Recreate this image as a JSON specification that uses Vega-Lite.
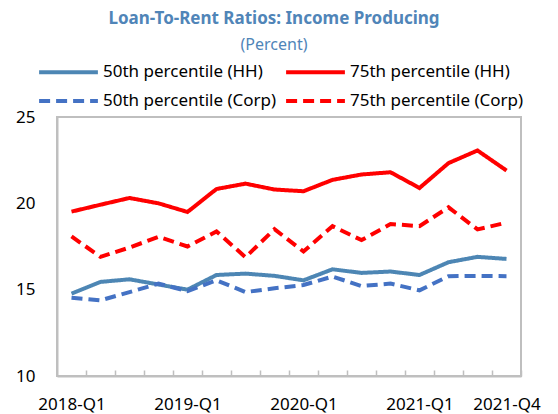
{
  "$schema": "https://vega.github.io/schema/vega-lite/v6.json",
  "width": 464,
  "height": 259,
  "autosize": {"type": "none"},
  "padding": {"left": 57, "top": 117, "right": 37, "bottom": 38},
  "background": "white",
  "title": {
    "text": "Loan-To-Rent Ratios: Income Producing",
    "subtitle": "(Percent)",
    "anchor": "middle",
    "dx": -15,
    "offset": 5.5,
    "font": "Noto Sans",
    "fontSize": 17,
    "fontWeight": "bold",
    "color": "#5085B8",
    "subtitleFont": "Noto Sans",
    "subtitleFontSize": 16,
    "subtitleColor": "#5085B8",
    "subtitlePadding": 9
  },
  "config": {
    "font": "Noto Sans",
    "view": {"stroke": "#BFBFBF", "strokeWidth": 2}
  },
  "data": {
    "values": [
      {"q": "2018-Q1", "s": "50th percentile (HH)", "v": 14.77},
      {"q": "2018-Q2", "s": "50th percentile (HH)", "v": 15.45},
      {"q": "2018-Q3", "s": "50th percentile (HH)", "v": 15.6},
      {"q": "2018-Q4", "s": "50th percentile (HH)", "v": 15.3},
      {"q": "2019-Q1", "s": "50th percentile (HH)", "v": 15.0},
      {"q": "2019-Q2", "s": "50th percentile (HH)", "v": 15.85},
      {"q": "2019-Q3", "s": "50th percentile (HH)", "v": 15.93},
      {"q": "2019-Q4", "s": "50th percentile (HH)", "v": 15.8},
      {"q": "2020-Q1", "s": "50th percentile (HH)", "v": 15.54},
      {"q": "2020-Q2", "s": "50th percentile (HH)", "v": 16.18},
      {"q": "2020-Q3", "s": "50th percentile (HH)", "v": 15.97},
      {"q": "2020-Q4", "s": "50th percentile (HH)", "v": 16.05},
      {"q": "2021-Q1", "s": "50th percentile (HH)", "v": 15.85},
      {"q": "2021-Q2", "s": "50th percentile (HH)", "v": 16.59},
      {"q": "2021-Q3", "s": "50th percentile (HH)", "v": 16.9},
      {"q": "2021-Q4", "s": "50th percentile (HH)", "v": 16.78},
      {"q": "2018-Q1", "s": "75th percentile (HH)", "v": 19.52},
      {"q": "2018-Q2", "s": "75th percentile (HH)", "v": 19.92},
      {"q": "2018-Q3", "s": "75th percentile (HH)", "v": 20.31},
      {"q": "2018-Q4", "s": "75th percentile (HH)", "v": 20.0},
      {"q": "2019-Q1", "s": "75th percentile (HH)", "v": 19.5},
      {"q": "2019-Q2", "s": "75th percentile (HH)", "v": 20.83},
      {"q": "2019-Q3", "s": "75th percentile (HH)", "v": 21.14},
      {"q": "2019-Q4", "s": "75th percentile (HH)", "v": 20.8},
      {"q": "2020-Q1", "s": "75th percentile (HH)", "v": 20.7},
      {"q": "2020-Q2", "s": "75th percentile (HH)", "v": 21.36},
      {"q": "2020-Q3", "s": "75th percentile (HH)", "v": 21.67},
      {"q": "2020-Q4", "s": "75th percentile (HH)", "v": 21.8},
      {"q": "2021-Q1", "s": "75th percentile (HH)", "v": 20.89},
      {"q": "2021-Q2", "s": "75th percentile (HH)", "v": 22.33},
      {"q": "2021-Q3", "s": "75th percentile (HH)", "v": 23.06},
      {"q": "2021-Q4", "s": "75th percentile (HH)", "v": 21.9},
      {"q": "2018-Q1", "s": "50th percentile (Corp)", "v": 14.53},
      {"q": "2018-Q2", "s": "50th percentile (Corp)", "v": 14.38},
      {"q": "2018-Q3", "s": "50th percentile (Corp)", "v": 14.86},
      {"q": "2018-Q4", "s": "50th percentile (Corp)", "v": 15.35},
      {"q": "2019-Q1", "s": "50th percentile (Corp)", "v": 14.92},
      {"q": "2019-Q2", "s": "50th percentile (Corp)", "v": 15.54},
      {"q": "2019-Q3", "s": "50th percentile (Corp)", "v": 14.86},
      {"q": "2019-Q4", "s": "50th percentile (Corp)", "v": 15.08},
      {"q": "2020-Q1", "s": "50th percentile (Corp)", "v": 15.27},
      {"q": "2020-Q2", "s": "50th percentile (Corp)", "v": 15.76},
      {"q": "2020-Q3", "s": "50th percentile (Corp)", "v": 15.21},
      {"q": "2020-Q4", "s": "50th percentile (Corp)", "v": 15.35},
      {"q": "2021-Q1", "s": "50th percentile (Corp)", "v": 14.96},
      {"q": "2021-Q2", "s": "50th percentile (Corp)", "v": 15.78},
      {"q": "2021-Q3", "s": "50th percentile (Corp)", "v": 15.8},
      {"q": "2021-Q4", "s": "50th percentile (Corp)", "v": 15.78},
      {"q": "2018-Q1", "s": "75th percentile (Corp)", "v": 18.08},
      {"q": "2018-Q2", "s": "75th percentile (Corp)", "v": 16.9},
      {"q": "2018-Q3", "s": "75th percentile (Corp)", "v": 17.44},
      {"q": "2018-Q4", "s": "75th percentile (Corp)", "v": 18.06},
      {"q": "2019-Q1", "s": "75th percentile (Corp)", "v": 17.5},
      {"q": "2019-Q2", "s": "75th percentile (Corp)", "v": 18.37},
      {"q": "2019-Q3", "s": "75th percentile (Corp)", "v": 16.88},
      {"q": "2019-Q4", "s": "75th percentile (Corp)", "v": 18.5},
      {"q": "2020-Q1", "s": "75th percentile (Corp)", "v": 17.21},
      {"q": "2020-Q2", "s": "75th percentile (Corp)", "v": 18.68},
      {"q": "2020-Q3", "s": "75th percentile (Corp)", "v": 17.87},
      {"q": "2020-Q4", "s": "75th percentile (Corp)", "v": 18.8},
      {"q": "2021-Q1", "s": "75th percentile (Corp)", "v": 18.68},
      {"q": "2021-Q2", "s": "75th percentile (Corp)", "v": 19.77},
      {"q": "2021-Q3", "s": "75th percentile (Corp)", "v": 18.49},
      {"q": "2021-Q4", "s": "75th percentile (Corp)", "v": 18.88}
    ]
  },
  "mark": {"type": "line", "strokeWidth": 4},
  "encoding": {
    "x": {
      "field": "q",
      "type": "ordinal",
      "sort": null,
      "scale": {"type": "point", "padding": 0.5},
      "axis": {
        "title": null,
        "labelAngle": 0,
        "labelOverlap": false,
        "labelBound": false,
        "labelExpr": "(datum.value == '2018-Q1' || datum.value == '2019-Q1' || datum.value == '2020-Q1' || datum.value == '2021-Q1' || datum.value == '2021-Q4') ? datum.value : ''",
        "labelFontSize": 17,
        "labelColor": "#000000",
        "labelPadding": 26,
        "tickOffset": 14.5,
        "labelOffset": -14.5,
        "tickSize": -6,
        "tickColor": "#BFBFBF",
        "tickWidth": 1.5,
        "domainColor": "#BFBFBF",
        "domainWidth": 2,
        "grid": false
      }
    },
    "y": {
      "field": "v",
      "type": "quantitative",
      "scale": {"domain": [10, 25], "nice": false, "zero": false},
      "axis": {
        "title": null,
        "values": [10, 15, 20, 25],
        "ticks": false,
        "grid": false,
        "labelFontSize": 17,
        "labelColor": "#000000",
        "labelPadding": 22,
        "domainColor": "#BFBFBF",
        "domainWidth": 2
      }
    },
    "color": {
      "field": "s",
      "type": "nominal",
      "scale": {
        "domain": ["50th percentile (HH)", "50th percentile (Corp)", "75th percentile (HH)", "75th percentile (Corp)"],
        "range": ["#4D86B4", "#4472C4", "#FF0000", "#FF0000"]
      },
      "legend": {
        "title": null,
        "orient": "none",
        "legendX": -18,
        "legendY": -57.5,
        "columns": 2,
        "padding": 0,
        "symbolType": "M-2.8,0H2.8",
        "symbolSize": 441,
        "symbolStrokeWidth": 4,
        "symbolOffset": 17,
        "labelFontSize": 17,
        "labelColor": "#000000",
        "labelOffset": 22,
        "columnPadding": 1,
        "rowPadding": 8,
        "labelLimit": 300
      }
    },
    "strokeDash": {
      "field": "s",
      "type": "nominal",
      "scale": {
        "domain": ["50th percentile (HH)", "50th percentile (Corp)", "75th percentile (HH)", "75th percentile (Corp)"],
        "range": [[1, 0], [11, 6], [1, 0], [11, 6]]
      },
      "legend": {
        "title": null,
        "orient": "none",
        "legendX": -18,
        "legendY": -57.5,
        "columns": 2,
        "padding": 0,
        "symbolType": "M-2.8,0H2.8",
        "symbolSize": 441,
        "symbolStrokeWidth": 4,
        "symbolOffset": 17,
        "labelFontSize": 17,
        "labelColor": "#000000",
        "labelOffset": 22,
        "columnPadding": 1,
        "rowPadding": 8,
        "labelLimit": 300
      }
    }
  }
}
